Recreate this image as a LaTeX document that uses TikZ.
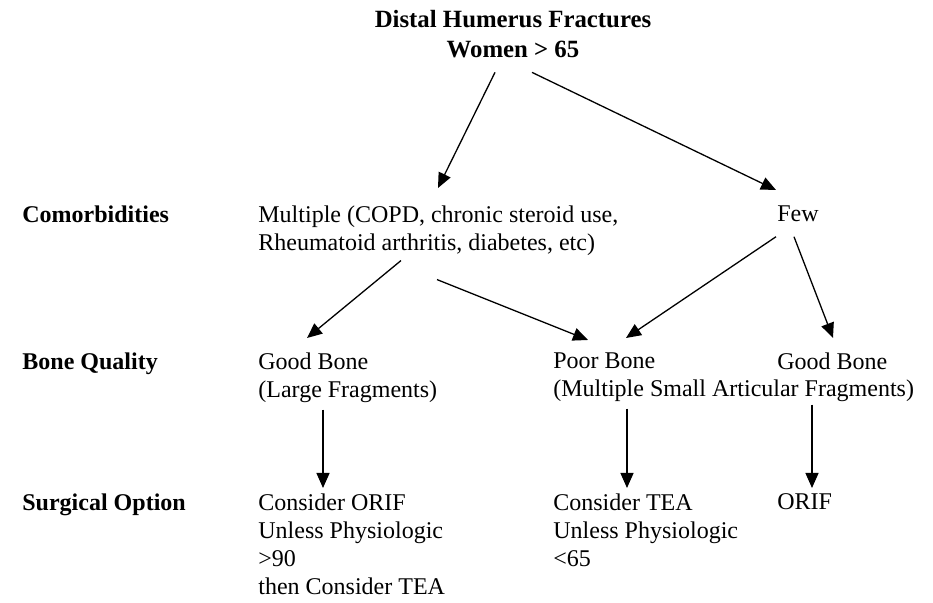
\documentclass[tikz,border=0pt]{standalone}
\usepackage{fontspec}
\setmainfont{Liberation Serif}
\usetikzlibrary{arrows.meta,calc}

\begin{document}
\begin{tikzpicture}[x=0.5pt,y=-0.5pt,>={Triangle[length=7.5pt,width=6.5pt]},
  txt/.style={anchor=north west,inner sep=0pt,align=left,font=\fontsize{12}{14}\selectfont},
  hdr/.style={txt,font=\fontsize{12}{14}\selectfont\bfseries},
  arr/.style={->,line width=0.65pt}]
\useasboundingbox (0,0) rectangle (933,603);
% top of the tree
\node[inner sep=0pt,anchor=north,align=center,font=\fontsize{12.4}{15}\selectfont\bfseries] (title) at (513,10) {Distal Humerus Fractures\\Women > 65};
% row labels
\node[hdr] (comorb) at (22,205) {Comorbidities};
\node[hdr] (bone) at (22,352) {Bone Quality};
\node[hdr] (surg) at (22,493) {Surgical Option};
% comorbidities
\node[txt] (multi) at (258,205) {Multiple (COPD, chronic steroid use,\\Rheumatoid arthritis, diabetes, etc)};
\node[txt] (few) at (777,205) {Few};
% bone quality
\node[txt] (goodl) at (258,352) {Good Bone\\(Large Fragments)};
\node[txt] (poor) at (553,352) {Poor Bone\\(Multiple Small Articular Fragments)};
\node[txt] (goodr) at (777,352) {Good Bone};
% surgical option
\node[txt] (orifl) at (258,493) {Consider ORIF\\Unless Physiologic\\>90\\then Consider TEA};
\node[txt] (tea) at (553,493) {Consider TEA\\Unless Physiologic\\<65};
\node[txt] (orifr) at (777,493) {ORIF};
% arrows
\draw[arr] ($(title.south)+(-18,14)$) -- ($(multi.north west)+(180,-17)$);
\draw[arr] ($(title.south)+(19,14)$) -- ($(few.north west)+(-1,-15)$);
\draw[arr] ($(multi.south west)+(143,5)$) -- ($(goodl.north west)+(49,-14)$);
\draw[arr] ($(multi.south west)+(179,24)$) -- ($(poor.north west)+(35,-12)$);
\draw[arr] ($(few.south west)+(-1,15)$) -- ($(poor.north west)+(73,-14)$);
\draw[arr] ($(few.south west)+(17,15)$) -- ($(goodr.north west)+(56,-14)$);
\draw[arr] ($(goodl.south west)+(65,7)$) -- ($(orifl.north west)+(65,-5)$);
\draw[arr] ($(poor.south west)+(74,7)$) -- ($(tea.north west)+(74,-5)$);
\draw[arr] ($(goodr.south west)+(35,35)$) -- ($(orifr.north west)+(35,-5)$);
\end{tikzpicture}
\end{document}
